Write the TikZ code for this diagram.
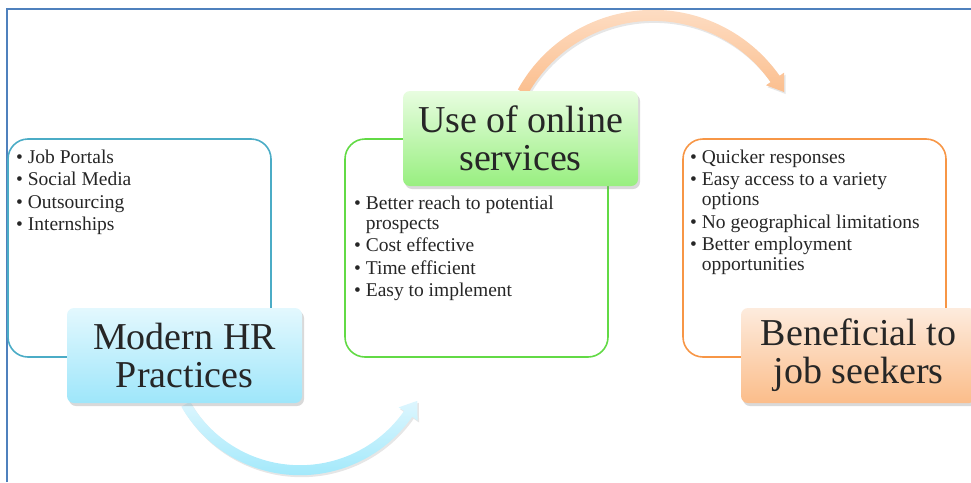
\documentclass[tikz,border=0pt]{standalone}
\usepackage{fontspec}
\setmainfont{Liberation Serif}
\usetikzlibrary{positioning, calc, shadows, backgrounds}

\definecolor{frameblue}{HTML}{4F81BD}
\definecolor{textdark}{HTML}{262626}
\definecolor{hrblue}{HTML}{4BACC6}
\definecolor{onlinegreen}{HTML}{62DA45}
\definecolor{seekerorange}{HTML}{F79646}
\definecolor{hrtop}{HTML}{E3F8FE}
\definecolor{hrbottom}{HTML}{9EE6FA}
\definecolor{onlinetop}{HTML}{E8FDE0}
\definecolor{onlinebottom}{HTML}{98EF80}
\definecolor{seekertop}{HTML}{FDEBDD}
\definecolor{seekerbottom}{HTML}{FBBD8A}
\definecolor{arrowbluetop}{HTML}{DDF6FE}
\definecolor{arrowbluebottom}{HTML}{A3E9FB}
\definecolor{arroworangetop}{HTML}{FEE4D0}
\definecolor{arroworangebottom}{HTML}{FBBE8D}

\begin{document}
\begin{tikzpicture}[ % coordinates are given in pt, y runs downwards as negative
x=1pt, y=1pt,
title_box/.style={rectangle, rounded corners=7pt, minimum width=235pt, minimum height=95pt, align=center, text=textdark, font=\fontsize{38}{38}\selectfont, drop shadow={opacity=0.3, shadow xshift=2pt, shadow yshift=-3pt}},
list_box/.style={rectangle, rounded corners=20pt, draw, line width=1.6pt, minimum width=263pt, minimum height=218pt},
list_text/.style={anchor=north west, inner sep=0pt, align=left, text=textdark, font=\fontsize{19.5}{20}\selectfont},
curved_arrow/.style={drop shadow={opacity=0.2, shadow xshift=1.5pt, shadow yshift=-2pt}}
]

\useasboundingbox (0,0) rectangle (971,-482);
\clip (0,0) rectangle (971,-482);
\draw[frameblue, line width=1.8pt] (7,-482) -- (7,-9) -- (971,-9);

% \node[type](name_of_node) at (x,y) {node_text}
\node[list_box, draw=hrblue](hr_box) at (139.5,-248) {};
\node[list_box, draw=onlinegreen](online_box) at (476.5,-248) {};
\node[list_box, draw=seekerorange](seekers_box) at (814.5,-248) {};

\node[list_text](hr_list) at (16,-149.7) {\textbullet~Job Portals\\[2.5pt]
\textbullet~Social Media\\[2.5pt]
\textbullet~Outsourcing\\[2.5pt]
\textbullet~Internships};
\node[list_text](online_list) at (354,-195.7) {\textbullet~Better reach to potential\\
\hphantom{\textbullet~}prospects\\[2.5pt]
\textbullet~Cost effective\\[2.5pt]
\textbullet~Time efficient\\[2.5pt]
\textbullet~Easy to implement};
\node[list_text](seekers_list) at (690,-149.7) {\textbullet~Quicker responses\\[2.5pt]
\textbullet~Easy access to a variety\\
\hphantom{\textbullet~}options\\[2.5pt]
\textbullet~No geographical limitations\\[2.5pt]
\textbullet~Better employment\\
\hphantom{\textbullet~}opportunities};

\node[title_box, top color=hrtop, bottom color=hrbottom](modern_hr) at (184.5,-355.5) {Modern HR\\Practices};
\node[title_box, top color=onlinetop, bottom color=onlinebottom](online_services) at (520.5,-138.5) {Use of online\\services};
\node[title_box, top color=seekertop, bottom color=seekerbottom](job_seekers) at (858.5,-355.5) {Beneficial to\\job seekers};

% curved arrows: a band round a turning point, behind the titles
\begin{pgfonlayer}{background}
\coordinate (hr_turn) at ($(modern_hr.south)+(115.5,65)$);
\coordinate (online_turn) at ($(online_services.north)+(132.5,-73.6)$);

\shade[curved_arrow, top color=arrowbluetop, bottom color=arrowbluebottom]
  ($(hr_turn)+(210:137)$) arc[start angle=210, end angle=325, radius=137]
  -- ($(hr_turn)+(325:143.5)$) -- ($(hr_turn)+(325:132)+(55:16)$)
  -- ($(hr_turn)+(325:120.5)$) -- ($(hr_turn)+(325:127)$)
  arc[start angle=325, end angle=210, radius=127] -- cycle;

\shade[curved_arrow, top color=arroworangetop, bottom color=arroworangebottom]
  ($(online_turn)+(151:154.5)$) arc[start angle=151, end angle=35, radius=154.5]
  -- ($(online_turn)+(35:160)$) -- ($(online_turn)+(35:149)+(-55:16)$)
  -- ($(online_turn)+(35:138)$) -- ($(online_turn)+(35:143.5)$)
  arc[start angle=35, end angle=151, radius=143.5] -- cycle;
\end{pgfonlayer}
\end{tikzpicture}
\end{document}
